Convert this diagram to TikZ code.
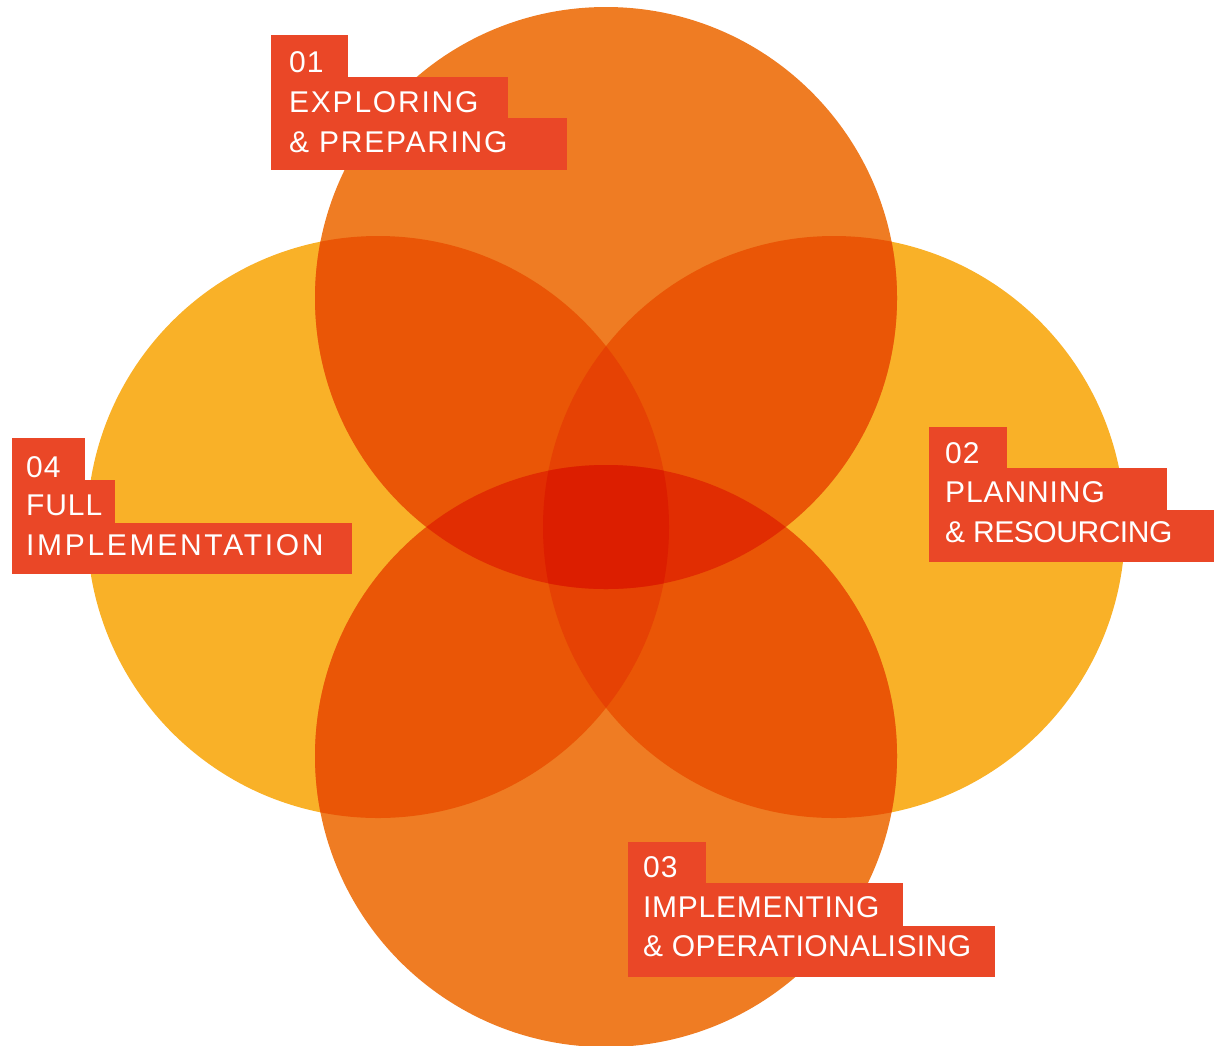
\documentclass[tikz,border=0pt]{standalone}
\usepackage{fontspec}
\newfontfamily\lblfont{Liberation Sans}
\definecolor{cyel}{HTML}{F9B128}
\definecolor{corg}{HTML}{EF7C23}
\definecolor{ctwo}{HTML}{EA5606}
\definecolor{cvert}{HTML}{E64204}
\definecolor{cband}{HTML}{E12D02}
\definecolor{cfour}{HTML}{DC1E00}
\definecolor{cred}{HTML}{EA4727}
\tikzset{
  lbltext/.style={text=white, inner sep=0pt, anchor=base west,
    font=\lblfont\addfontfeature{LetterSpace=#1}\fontsize{30}{30}\selectfont},
  lbltext/.default=3,
  redbox/.style={fill=cred},
}
\begin{document}
\begin{tikzpicture}[x=1pt,y=-1pt]
\useasboundingbox (0,0) rectangle (1214,1045);
\coordinate (T) at (606,298);
\coordinate (B) at (606,756);
\coordinate (L) at (378,527);
\coordinate (R) at (834,527);
\def\rr{291pt}
% base circles
\fill[cyel] (L) circle[radius=\rr] (R) circle[radius=\rr];
\fill[corg] (T) circle[radius=\rr] (B) circle[radius=\rr];
% two-circle overlaps
\begin{scope}
\clip (T) circle[radius=\rr];
\fill[ctwo] (L) circle[radius=\rr] (R) circle[radius=\rr];
\end{scope}
\begin{scope}
\clip (B) circle[radius=\rr];
\fill[ctwo] (L) circle[radius=\rr] (R) circle[radius=\rr];
\end{scope}
% vertical lens (left and right) with top or bottom
\begin{scope}
\clip (L) circle[radius=\rr];
\clip (R) circle[radius=\rr];
\fill[cvert] (T) circle[radius=\rr] (B) circle[radius=\rr];
\end{scope}
% horizontal band (top and bottom) with left or right
\begin{scope}
\clip (T) circle[radius=\rr];
\clip (B) circle[radius=\rr];
\fill[cband] (L) circle[radius=\rr] (R) circle[radius=\rr];
\end{scope}
% all four
\begin{scope}
\clip (T) circle[radius=\rr];
\clip (B) circle[radius=\rr];
\clip (L) circle[radius=\rr];
\fill[cfour] (R) circle[radius=\rr];
\end{scope}
% label 01
\fill[redbox] (271,35) rectangle (348,78);
\fill[redbox] (271,77) rectangle (508,119);
\fill[redbox] (271,118) rectangle (567,170);
\node[lbltext] (n1a) at (289,72) {01};
\node[lbltext=5.9] (n1b) at (289,112) {EXPLORING};
\node[lbltext=5.7] (n1c) at (289,152) {\&~PREPARING};
% label 02
\fill[redbox] (929,427) rectangle (1007,469);
\fill[redbox] (929,468) rectangle (1167,511);
\fill[redbox] (929,510) rectangle (1214,562);
\node[lbltext] (n2a) at (945,463) {02};
\node[lbltext] (n2b) at (945,502) {PLANNING};
\node[lbltext=-1.5] (n2c) at (945,542) {\&~RESOURCING};
% label 03
\fill[redbox] (628,842) rectangle (706,884);
\fill[redbox] (628,883) rectangle (903,927);
\fill[redbox] (628,926) rectangle (995,977);
\node[lbltext] (n3a) at (643,877) {03};
\node[lbltext=2.4] (n3b) at (643,917) {IMPLEMENTING};
\node[lbltext=1.4] (n3c) at (643,956) {\&~OPERATIONALISING};
% label 04
\fill[redbox] (12,438) rectangle (85,481);
\fill[redbox] (12,480) rectangle (115,524);
\fill[redbox] (12,523) rectangle (352,574);
\node[lbltext] (n4a) at (26,477) {04};
\node[lbltext] (n4b) at (26,515) {FULL};
\node[lbltext=9] (n4c) at (26,555) {IMPLEMENTATION};
\end{tikzpicture}
\end{document}
